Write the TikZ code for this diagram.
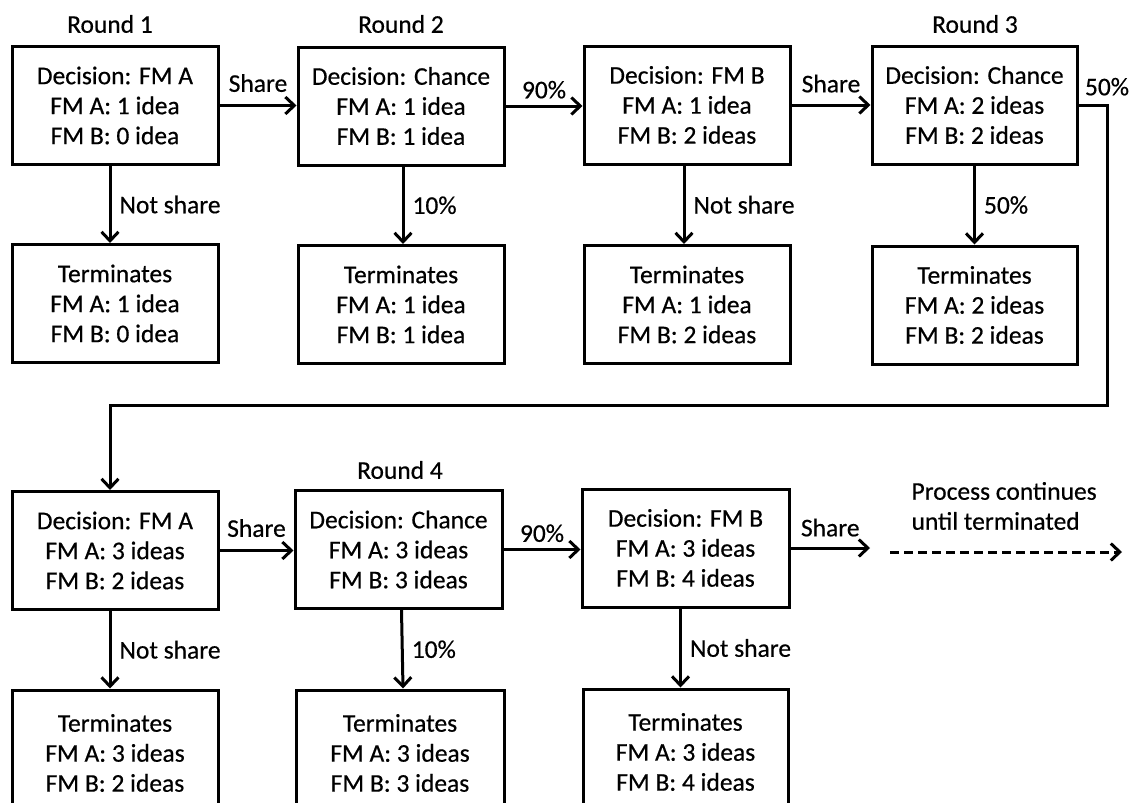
\documentclass[tikz,border=0pt]{standalone}
\usepackage{fontspec}
\setmainfont{Carlito}[FakeBold=0.5]
\usetikzlibrary{arrows.meta}
\begin{document}
\begin{tikzpicture}[x=1pt,y=-1pt,
  every node/.style={font=\fontsize{25.5}{30}\selectfont},
  box/.style={draw,line width=3pt,minimum width=206pt,minimum height=118pt,inner sep=0pt,align=center,
    execute at begin node=\rule{0pt}{25pt}},
  tbox/.style={box,execute at begin node=\rule{0pt}{30pt}},
  lab/.style={inner sep=2pt},
  arr/.style={line width=3pt,-{Straight Barb[length=9pt,width=17pt,line width=3pt]}},
  darr/.style={arr,dash pattern=on 9pt off 5pt}]
\clip (0,0) rectangle (1135,803);
\useasboundingbox (0,0) rectangle (1135,803);
% round labels
\node (r1) at (110,24) {Round 1};
\node (r2) at (401,24) {Round 2};
\node (r3) at (975,24) {Round 3};
\node (r4) at (400,470) {Round 4};
% row 1 decisions
\node[box] (B1) at (115,105.5) {Decision: FM A\\FM A: 1 idea\\FM B: 0 idea};
\node[box] (B2) at (401,106) {Decision: Chance\\FM A: 1 idea\\FM B: 1 idea};
\node[box] (B3) at (687,105) {Decision: FM B\\FM A: 1 idea\\FM B: 2 ideas};
\node[box,minimum width=205pt] (B4) at (974.5,105) {Decision: Chance\\FM A: 2 ideas\\FM B: 2 ideas};
% row 1 terminations
\node[tbox] (T1) at (115,303.5) {Terminates\\FM A: 1 idea\\FM B: 0 idea};
\node[tbox] (T2) at (401,304.5) {Terminates\\FM A: 1 idea\\FM B: 1 idea};
\node[tbox] (T3) at (687,304.5) {Terminates\\FM A: 1 idea\\FM B: 2 ideas};
\node[tbox,minimum width=205pt] (T4) at (974.5,305) {Terminates\\FM A: 2 ideas\\FM B: 2 ideas};
% row 2 decisions
\node[box] (B5) at (115,550.5) {Decision: FM A\\FM A: 3 ideas\\FM B: 2 ideas};
\node[box,minimum width=207pt] (B6) at (398.5,549.5) {Decision: Chance\\FM A: 3 ideas\\FM B: 3 ideas};
\node[box,minimum width=207pt] (B7) at (685.5,548) {Decision: FM B\\FM A: 3 ideas\\FM B: 4 ideas};
% row 2 terminations (cut by lower edge)
\node[box,minimum height=126pt] (T5) at (115,753) {Terminates\\FM A: 3 ideas\\FM B: 2 ideas};
\node[box,minimum height=126pt,minimum width=208pt] (T6) at (400,753) {Terminates\\FM A: 3 ideas\\FM B: 3 ideas};
\node[box,minimum height=126pt,minimum width=205pt] (T7) at (685.5,752) {Terminates\\FM A: 3 ideas\\FM B: 4 ideas};
% horizontal arrows row 1
\draw[arr] (B1.east) -- node[lab,above=10pt] {Share} (B1.east -| B2.west);
\draw[arr] (B2.east) -- node[lab,above=4pt] {90\%} (B2.east -| B3.west);
\draw[arr] (B3.east) -- node[lab,above=9pt] {Share} (B3.east -| B4.west);
% vertical arrows row 1
\draw[arr] ([xshift=-5pt]B1.south) -- node[lab,right=6pt] {Not share} ([xshift=-5pt]T1.north);
\draw[arr] ([xshift=2pt]B2.south) -- node[lab,right=6pt] {10\%} ([xshift=2pt]T2.north);
\draw[arr] ([xshift=-3pt]B3.south) -- node[lab,right=6pt] {Not share} ([xshift=-3pt]T3.north);
\draw[arr] (B4.south) -- node[lab,right=6pt] {50\%} (T4.north);
% wrap-around connector
\coordinate (turn) at (1107,405);
\draw[arr] (B4.east) -| node[lab,above=6pt,pos=0.5] {50\%} (turn) -| ([xshift=-5pt]B5.north);
% horizontal arrows row 2
\draw[arr] (B5.east) -- node[lab,above=10pt] {Share} (B5.east -| B6.west);
\draw[arr] (B6.east) -- node[lab,above=4pt] {90\%} (B6.east -| B7.west);
\coordinate (sEnd) at (870,549);
\draw[arr] (B7.east) -- node[lab,above=8pt] {Share} (B7.east -| sEnd);
\coordinate (dStart) at (890,552);
\coordinate (dEnd) at (1122,552);
\draw[darr] (dStart) -- (dEnd);
\node[align=left,anchor=west] (proc) at (908,506) {Process continues\\until terminated};
% vertical arrows row 2
\draw[arr] ([xshift=-5pt]B5.south) -- node[lab,right=6pt] {Not share} ([xshift=-5pt]T5.north);
\draw[arr] ([xshift=3pt]B6.south) -- node[lab,right=6pt] {10\%} ([xshift=3pt]T6.north);
\draw[arr] ([xshift=-5pt]B7.south) -- node[lab,right=6pt] {Not share} ([xshift=-5pt]T7.north);
\end{tikzpicture}
\end{document}
